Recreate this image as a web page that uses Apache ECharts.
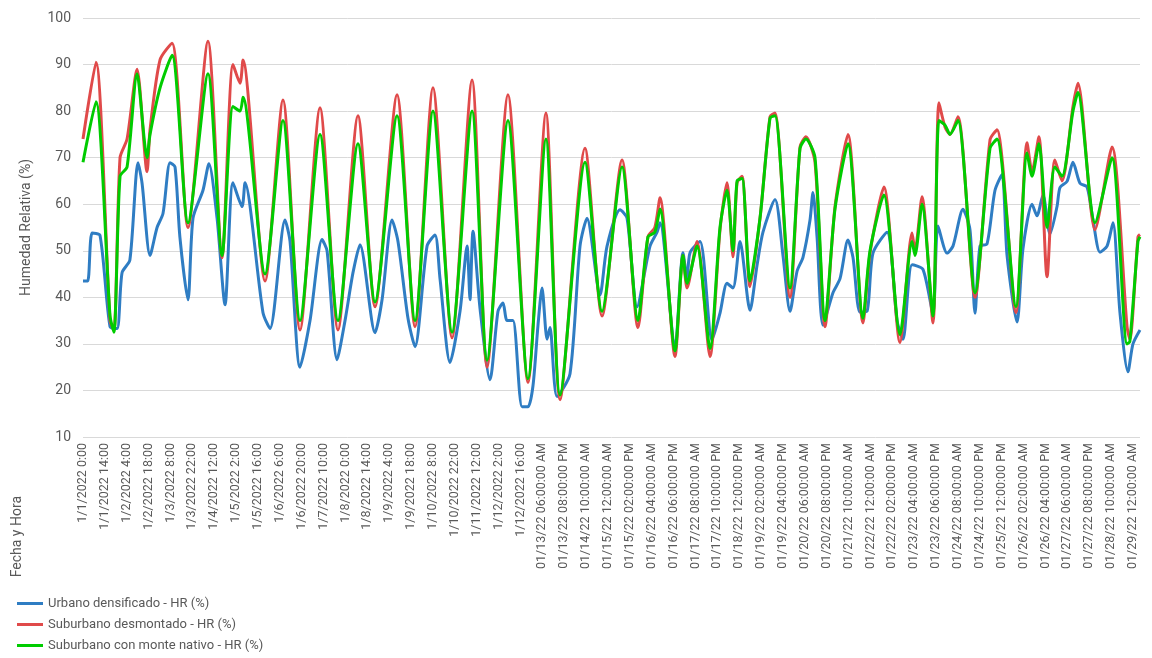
<!DOCTYPE html>
<html>
<head>
<meta charset="utf-8">
<script src="https://cdn.jsdelivr.net/npm/echarts@6/dist/echarts.min.js"></script>
<style>html,body{margin:0;padding:0;background:#fff}#chart{width:1152px;height:658px}</style>
</head>
<body>
<div id="chart"></div>
<script>
// etiquetas del eje X (cada 14 horas)
var tickLabels = ['1/1/2022 0:00','1/1/2022 14:00','1/2/2022 4:00','1/2/2022 18:00','1/3/2022 8:00','1/3/2022 22:00','1/4/2022 12:00','1/5/2022 2:00','1/5/2022 16:00','1/6/2022 6:00','1/6/2022 20:00','1/7/2022 10:00','1/8/2022 0:00','1/8/2022 14:00','1/9/2022 4:00','1/9/2022 18:00','1/10/2022 8:00','1/10/2022 22:00','1/11/2022 12:00','1/12/2022 2:00','1/12/2022 16:00',
  '01/13/22 06:00:00 AM','01/13/22 08:00:00 PM','01/14/22 10:00:00 AM','01/15/22 12:00:00 AM','01/15/22 02:00:00 PM','01/16/22 04:00:00 AM','01/16/22 06:00:00 PM','01/17/22 08:00:00 AM','01/17/22 10:00:00 PM','01/18/22 12:00:00 PM','01/19/22 02:00:00 AM','01/19/22 04:00:00 PM','01/20/22 06:00:00 AM','01/20/22 08:00:00 PM','01/21/22 10:00:00 AM','01/22/22 12:00:00 AM','01/22/22 02:00:00 PM','01/23/22 04:00:00 AM','01/23/22 06:00:00 PM','01/24/22 08:00:00 AM','01/24/22 10:00:00 PM','01/25/22 12:00:00 PM','01/26/22 02:00:00 AM','01/26/22 04:00:00 PM','01/27/22 06:00:00 AM','01/27/22 08:00:00 PM','01/28/22 10:00:00 AM','01/29/22 12:00:00 AM'];

// horas desde 1/1/2022 0:00 y HR (%)
var urbanoHoras = [0,3,5.8,10.9,17.3,21.8,25,30,35.2,37.8,42.9,47.4,51.2,55.7,58.9,62,67.2,70.4,76.8,80.6,85.8,90.9,96,101.8,103.7,115.2,119.7,129.3,132.5,138.9,145.3,153,156.2,162.6,167.7,172.8,177.3,186.9,191.4,197.8,201.6,208,212.5,220.2,225.3,228.5,234.9,241.3,245.8,247.7,249.6,254.1,260.5,265.6,268.8,271.4,275.2,281,284.8,288,291.2,293.8,297,298.9,303.4,311.7,318.1,322.6,330.9,335.4,343.7,348.2,354.6,362.9,367.4,369.3,377.6,378.9,384,386.6,388.5,394.9,402.6,407.7,412.2,416,420.5,426.9,431.4,435.2,442.9,448,452.5,457,460.8,465.3,467.2,469.8,473.6,480,484.5,489.6,492.8,497.3,501.8,505.6,514.6,521,524.8,530.6,537.6,544,547.2,553,556.8,563.2,567.7,570.9,574.1,578.6,583.7,588.2,591.4,597.8,601.6,607.4,610.6,614.4,618.9,623.4,625.3,629.8,633.6,638.1,642.6,646.4,650.9,655.4,659.2,663.7,668.8,672,676.5];
var urbanoHR = [43.5,43.5,53.8,53.3,33.7,33.3,45.3,48,68.9,64.5,49,55,58,68.9,68,53,39.5,57,63,68.7,57,38.4,64.6,59.5,64.6,36.7,33.3,56.6,52,25,35,52.4,50,26.6,35,45.3,51.3,32.4,39.5,56.6,52,35.5,29.4,51,53.4,44,26,37,51,39.5,54.2,37.6,22.3,37,38.8,35,35,16.5,16.5,21,34,42,31,33.5,18.7,23.6,51,57,40.5,51,58.8,57,38,51,54,56,31,29,49.6,44,49.6,52,30.8,36.6,43,42,52,37.2,46.9,54,61,49,37,45.6,48.6,56.6,62.5,53,34,41,44,52.3,48.6,36.8,37,49.5,54,35,31,47,46,36.6,55.3,49.5,51,58.9,54.5,36.6,51,51.5,63,66.4,49,34.7,50.4,60,57.5,62,53.6,59.5,63.6,64.9,69,64.5,63.7,56.7,49.7,51,56,36.6,24,30,33];

var suburbHoras = [0,8.3,17.3,19.8,23.7,28.2,34.6,41,42.9,49.3,57,67.2,80,89,96,100.5,102.4,116.5,128,138.9,151.7,163.2,176,186.9,201,212.5,224,236.2,249,258.6,272,284.8,296.3,305.3,321.3,332.2,345,355.2,361.6,366,369.3,378.9,384,386.6,393,401.3,407.7,412.2,416,418.6,421.8,426.9,433.3,439.7,442.9,452.5,458.9,462.7,468.5,474.9,481.3,489.6,499.2,503.7,512.6,522.9,530.6,532.5,537,544,547.8,551.7,554.9,560,570.9,580.5,585,597.1,604.2,607.4,611.8,617,622,626.6,633.6,636.8,647.7,658.6,668.2,670,675.2,676.5];
var desmontadoHR = [74,90.5,35,33,70,74,89,67,76,91,94.6,55,95,48.5,90,86,91,43.5,82.4,33,80.7,33,79,38,83.5,33.7,85,31.3,86.7,25,83.5,21.7,79.6,18,72,36,69.5,33.5,53,55,61.4,27.3,49,42,52,27.3,54.5,64.6,48.7,64.6,66,42.3,57,78.8,79.6,40,72.3,74.5,69,33.7,59.5,75,34.5,49.5,63.7,30.3,53.8,50,61.6,34.5,81.8,76.6,75,78.8,40,73.8,76,36.7,73.2,67,74.5,44.4,69.5,65,81,86,54.5,72.3,33.7,31,53,53.5];
var monteNativoHR = [69,82,36,32.5,66,68,88,70,75,85,92,56,88,49,81,80,83,45,78,35,75,35,73,39,79,35,80,32.5,80,26.5,78,22.5,74,19,69,37,68,35,53,54,59,28.5,49,43,51,29,55,63,50,65,65.5,43.5,57,78.5,79,42,72,74,70,35,59,73,35.5,50,62,32,52,49,60,36,78,77,75,78,41,72,74,38,71,66,73,55,68,66,80,84,56,70,30,30.5,52,53];

function pares(h, v) { return h.map(function (x, i) { return [x, v[i]]; }); }

var chart = echarts.init(document.getElementById('chart'));
var txt = '#595959';
chart.setOption({
  animation: false,
  grid: { left: 83, right: 12, top: 18, bottom: 221 },
  legend: {
    orient: 'vertical', left: 12, top: 592, itemGap: 8,
    icon: 'rect', itemWidth: 26, itemHeight: 3,
    textStyle: { color: txt, fontSize: 13, fontFamily: 'Roboto' },
    data: ['Urbano densificado - HR (%)', 'Suburbano desmontado - HR (%)', 'Suburbano con monte nativo - HR (%)']
  },
  graphic: [{
    type: 'text', left: 10, top: 496, rotation: Math.PI / 2,
    style: { text: 'Fecha y Hora', fill: txt, font: '14px Roboto' }
  }],
  xAxis: {
    type: 'value', min: 0, max: 676.5, interval: 14,
    axisLine: { show: false }, axisTick: { show: false }, splitLine: { show: false },
    axisLabel: {
      rotate: 90, color: txt, fontSize: 12.5, fontFamily: 'Roboto', margin: 6, showMaxLabel: false,
      formatter: function (v) { var i = Math.round(v / 14); return tickLabels[i] || ''; }
    }
  },
  yAxis: {
    type: 'value', min: 10, max: 100, interval: 10,
    name: 'Humedad Relativa (%)', nameLocation: 'middle', nameGap: 50,
    nameTextStyle: { color: txt, fontSize: 14, fontFamily: 'Roboto' },
    axisLine: { show: false }, axisTick: { show: false },
    axisLabel: { color: txt, fontSize: 14, fontFamily: 'Roboto', margin: 12 },
    splitLine: { lineStyle: { color: '#d9d9d9', width: 1 } }
  },
  series: [
    { name: 'Urbano densificado - HR (%)', type: 'line', showSymbol: false, smooth: 0.25, color: '#2f7dc3', lineStyle: { width: 3 }, data: pares(urbanoHoras, urbanoHR) },
    { name: 'Suburbano desmontado - HR (%)', type: 'line', showSymbol: false, smooth: 0.25, color: '#e04a4a', lineStyle: { width: 3 }, data: pares(suburbHoras, desmontadoHR) },
    { name: 'Suburbano con monte nativo - HR (%)', type: 'line', showSymbol: false, smooth: 0.25, color: '#00cc00', lineStyle: { width: 3 }, data: pares(suburbHoras, monteNativoHR) }
  ]
});
</script>
</body>
</html>
